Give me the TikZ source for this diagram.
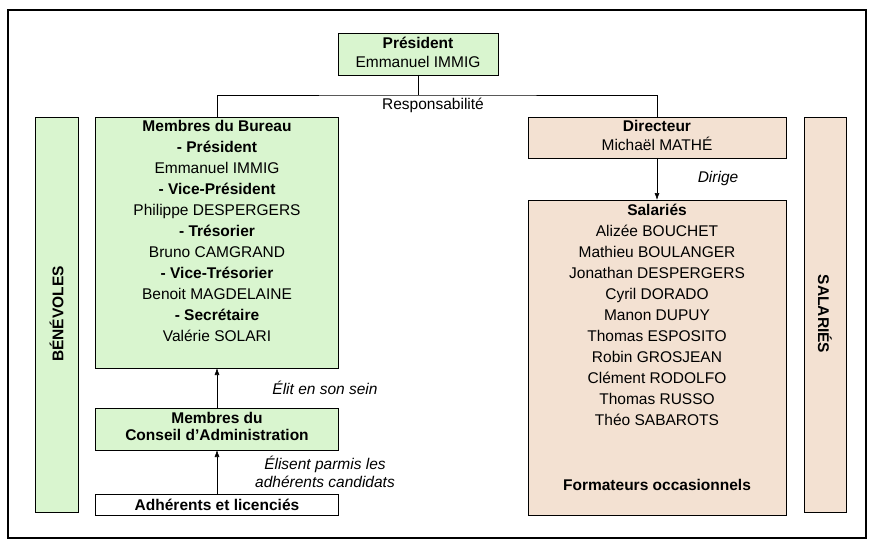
\documentclass[tikz,border=0pt]{standalone}
\usepackage{fontspec}
\setmainfont{Liberation Sans}
\usetikzlibrary{arrows.meta}
\definecolor{gr}{HTML}{D9F5CF}
\definecolor{tan}{HTML}{F3E1D2}
\begin{document}
\begin{tikzpicture}[x=1pt,y=-1pt,
  box/.style={draw=black,line width=0.6pt,inner sep=0pt},
  txt/.style={font=\fontsize{15.5}{21}\selectfont,align=center,inner sep=0pt},
  lbl/.style={font=\fontsize{15.5}{17.5}\selectfont\itshape,align=center,inner sep=0pt},
  arr/.style={line width=0.6pt,-{Latex[length=7pt,width=5pt]}}]
\useasboundingbox (0,0) rectangle (877,548);
\draw[line width=1.5pt] (8,10) rectangle (866,538);
% president
\draw[box,fill=gr] (338,33) rectangle (498,75);
\node[txt,anchor=north,font=\fontsize{15.5}{19}\selectfont] (pres) at (418,37) {\textbf{Président}\\Emmanuel IMMIG};
\coordinate (pb) at (418,75);
% side bars
\draw[box,fill=gr] (35,117) rectangle (78,512);
\node[txt,rotate=90] (ben) at (56.5,314) {\textbf{BÉNÉVOLES}};
\draw[box,fill=tan] (804,117) rectangle (846,512);
\node[txt,rotate=-90] (sal) at (825,314) {\textbf{SALARIÉS}};
% bureau
\draw[box,fill=gr] (95,117) rectangle (338,368);
\coordinate (bt) at (217,117); \coordinate (bb) at (217,368);
\node[txt,anchor=north] (bur) at (217,120) {\textbf{Membres du Bureau}\\\textbf{- Président}\\Emmanuel IMMIG\\\textbf{- Vice-Président}\\Philippe DESPERGERS\\\textbf{- Trésorier}\\Bruno CAMGRAND\\\textbf{- Vice-Trésorier}\\Benoit MAGDELAINE\\\textbf{- Secrétaire}\\Valérie SOLARI};
% CA
\draw[box,fill=gr] (95,408) rectangle (338,450);
\coordinate (cat) at (217,408); \coordinate (cab) at (217,450);
\node[txt,anchor=north,font=\fontsize{15.5}{17.5}\selectfont] (ca) at (217,412) {\textbf{Membres du}\\\textbf{Conseil d\char"0027 Administration}};
% adherents
\draw[box,fill=white] (95,494) rectangle (338,515);
\coordinate (adt) at (217,494);
\node[txt] (adh) at (217,505) {\textbf{Adhérents et licenciés}};
% directeur
\draw[box,fill=tan] (528,117) rectangle (786,158);
\coordinate (dt) at (657,117); \coordinate (db) at (657,158);
\node[txt,anchor=north,font=\fontsize{15.5}{19}\selectfont] (dir) at (657,120) {\textbf{Directeur}\\Michaël MATHÉ};
% salaries
\draw[box,fill=tan] (528,200) rectangle (786,515);
\coordinate (st) at (657,200);
\node[txt,anchor=north] (sals) at (657,204) {\textbf{Salariés}\\Alizée BOUCHET\\Mathieu BOULANGER\\Jonathan DESPERGERS\\Cyril DORADO\\Manon DUPUY\\Thomas ESPOSITO\\Robin GROSJEAN\\Clément RODOLFO\\Thomas RUSSO\\Théo SABAROTS};
\node[txt] (form) at (657,485) {\textbf{Formateurs occasionnels}};
% connectors
\draw[line width=0.6pt] (pb) -- (418,95) coordinate (mid);
\draw[line width=0.6pt] (bt) |- (mid) -| (dt);
\node[txt] (resp) at (433,105) {Responsabilité};
\draw[arr] (db) -- (st);
\node[lbl] (dirige) at (718,178) {Dirige};
\draw[arr] (cat) -- (bb);
\node[lbl] (elit) at (325,388) {Élit en son sein};
\draw[arr] (adt) -- (cab);
\node[lbl] (elis) at (325,472) {Élisent parmis les\\adhérents candidats};
\end{tikzpicture}
\end{document}
